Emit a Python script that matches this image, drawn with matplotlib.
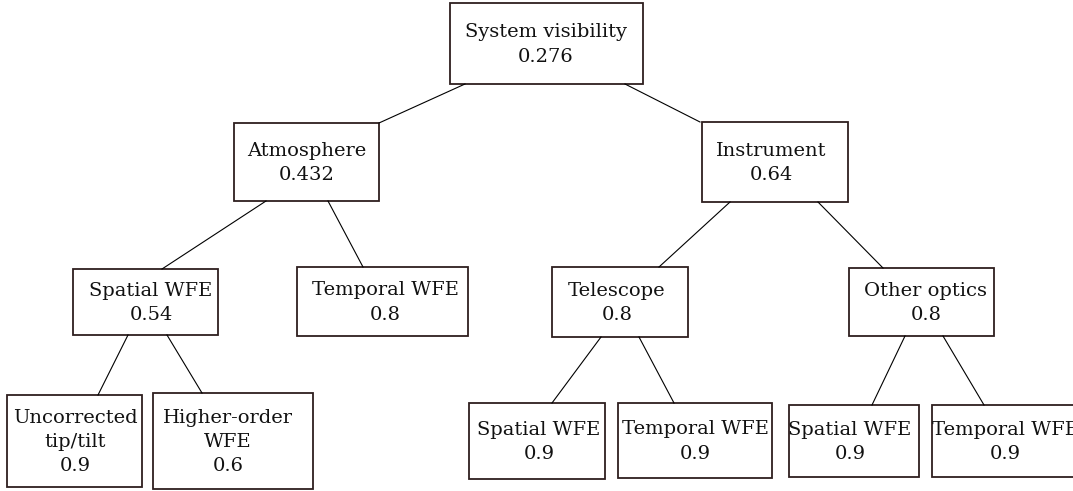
import matplotlib.pyplot as plt
from matplotlib.patches import Rectangle

# tree content
names = ['System visibility', 'Atmosphere', 'Instrument', 'Spatial WFE', 'Temporal WFE',
         'Telescope', 'Other optics', 'Uncorrected\ntip/tilt', 'Higher-order\nWFE',
         'Spatial WFE', 'Temporal WFE', 'Spatial WFE', 'Temporal WFE']
values = ['0.276', '0.432', '0.64', '0.54', '0.8', '0.8', '0.8',
          '0.9', '0.6', '0.9', '0.9', '0.9', '0.9']
parents = [None, 0, 0, 1, 1, 2, 2, 3, 3, 5, 5, 6, 6]

# layout (pixel space, y downwards): box x0, y0, x1, y1 and text centre x
boxes = [(450, 3, 643, 84), (234, 123, 379, 201), (702, 122, 848, 202),
         (73, 269, 218, 335), (297, 267, 468, 336), (552, 267, 688, 337),
         (849, 268, 994, 336), (7, 395, 142, 487), (153, 393, 313, 489),
         (469, 403, 605, 479), (618, 403, 772, 478), (789, 405, 919, 477),
         (932, 405, 1085, 477)]
text_x = [546, 307, 771, 151, 385, 617, 926, 75, 228, 539, 695, 850, 1005]
# where each connector leaves the parent's bottom and meets the child's top
attach_parent = [None, 465, 625, 266, 328, 730, 818, 128, 167, 601, 639, 905, 943]
attach_child = [None, 379, 700, 162, 363, 659, 883, 98, 202, 552, 674, 872, 984]

W, H = 1073, 491
fig = plt.figure(figsize=(W / 100, H / 100), dpi=100)
ax = fig.add_axes([0, 0, 1, 1])
ax.set_xlim(0, W)
ax.set_ylim(H, 0)
ax.axis('off')

for i, p in enumerate(parents):
    if p is None:
        continue
    ax.plot([attach_parent[i], attach_child[i]], [boxes[p][3], boxes[i][1]],
            color='black', linewidth=0.8)

for i, (x0, y0, x1, y1) in enumerate(boxes):
    ax.add_patch(Rectangle((x0, y0), x1 - x0, y1 - y0, facecolor='white',
                           edgecolor='#2e1f1f', linewidth=1.3))
    ax.text(text_x[i], (y0 + y1) / 2 + 1, f'{names[i]}\n{values[i]}',
            ha='center', va='center', fontsize=14, family='DejaVu Serif',
            linespacing=1.45, color='#111111')

fig.savefig('out.png', dpi=100)
